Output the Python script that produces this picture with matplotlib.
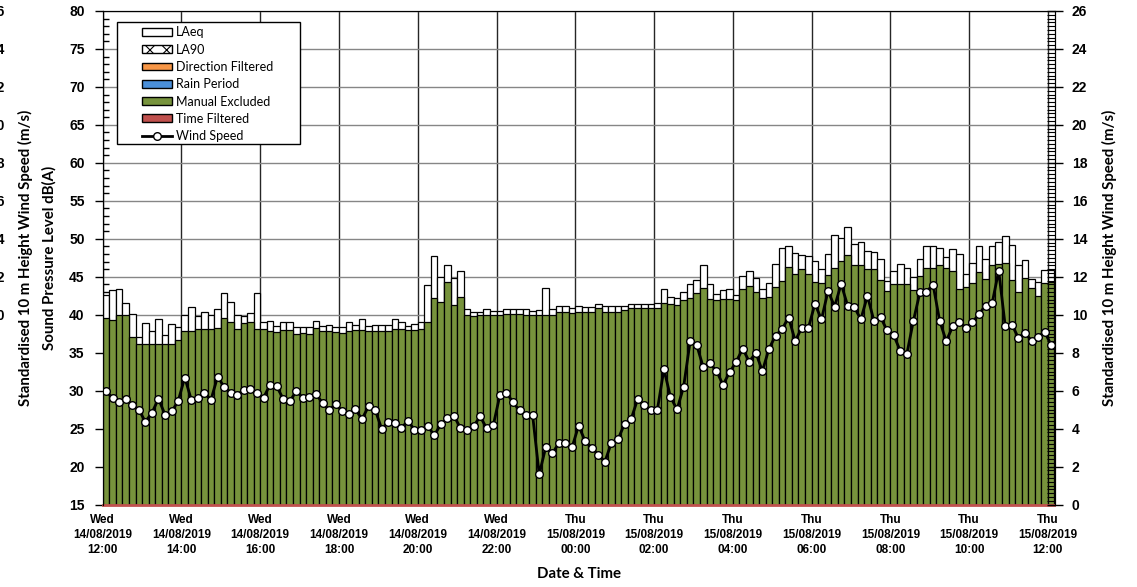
import pandas as pd
import matplotlib
matplotlib.use('Agg')
import matplotlib.pyplot as plt
import matplotlib.dates as mdates
from matplotlib import font_manager as fm
from matplotlib.patches import Patch, Rectangle
from matplotlib.lines import Line2D
from matplotlib.ticker import MultipleLocator

plt.rcParams['font.family'] = ['Liberation Sans', 'DejaVu Sans']
plt.rcParams['hatch.linewidth'] = 0.8


def bold_file(names):
    # pick a real bold face file from the first family that has one
    for name in names:
        for f in fm.fontManager.ttflist:
            if f.name == name and f.style == 'normal' and f.weight in (700, 'bold'):
                return f.fname
    return fm.findfont(fm.FontProperties(family='DejaVu Sans', weight='bold'))


LABEL_BOLD = bold_file(['Lato', 'Liberation Sans'])
TICK_BOLD = bold_file(['Liberation Sans', 'Lato'])


def bold(size, fname=LABEL_BOLD):
    return fm.FontProperties(fname=fname, size=size)


# 10 minute periods, Wed 14/08/2019 12:00 -> Thu 15/08/2019 12:00
start = '2019-08-14 12:00'

laeq = [42.6, 43.2, 43.4, 41.6, 40.1, 37.0, 38.9, 37.8, 39.4, 37.3, 38.8, 38.4, 39.9, 41.0, 39.8, 40.3, 40.0, 40.8, 42.9,
        41.7, 40.0, 39.8, 40.2, 42.9, 39.0, 39.2, 38.5, 39.0, 39.0, 38.4, 38.4, 38.4, 39.2, 38.5, 38.6, 38.4, 38.4,
        39.1, 38.6, 39.4, 38.5, 38.7, 38.6, 38.7, 39.4, 39.1, 38.5, 38.8, 39.0, 43.9, 47.7, 44.9, 46.6, 44.8, 45.8,
        40.7, 40.4, 40.4, 40.8, 40.5, 40.5, 40.8, 40.8, 40.8, 40.7, 40.5, 40.6, 43.5, 40.7, 41.1, 41.1, 40.9, 41.1,
        41.0, 41.0, 41.4, 41.2, 41.1, 41.1, 41.2, 41.4, 41.4, 41.4, 41.4, 41.5, 43.4, 42.3, 42.2, 43.0, 44.1, 44.6,
        46.5, 44.0, 42.7, 43.2, 43.4, 42.6, 45.1, 45.8, 44.8, 43.4, 44.2, 46.7, 48.8, 49.0, 48.1, 47.8, 47.7, 47.1,
        46.0, 48.0, 50.5, 50.1, 51.5, 49.3, 49.6, 48.4, 48.2, 47.3, 44.5, 45.7, 46.7, 46.2, 45.0, 47.4, 49.0, 49.0,
        48.8, 47.6, 48.7, 48.0, 45.4, 46.8, 49.0, 47.4, 49.0, 49.6, 50.3, 49.2, 46.5, 47.2, 44.7, 44.3, 45.9, 45.9]

la90 = [39.5, 39.3, 39.9, 39.9, 37.1, 36.1, 36.2, 36.2, 36.2, 36.1, 36.2, 36.7, 37.8, 37.9, 38.1, 38.1, 38.1, 38.2, 39.5,
        39.1, 38.1, 38.9, 39.0, 38.1, 38.1, 37.9, 37.7, 38.0, 38.0, 37.5, 37.6, 37.5, 38.2, 37.8, 37.8, 37.7, 37.6,
        37.9, 38.0, 38.0, 37.9, 37.9, 37.9, 37.9, 38.1, 38.1, 38.0, 38.0, 38.1, 39.1, 42.2, 41.7, 44.3, 41.3, 42.3,
        40.0, 39.8, 39.9, 40.0, 39.9, 40.0, 40.1, 40.1, 40.1, 40.0, 40.0, 40.0, 40.0, 40.0, 40.3, 40.3, 40.2, 40.3,
        40.3, 40.4, 40.9, 40.4, 40.4, 40.4, 40.6, 40.9, 40.9, 40.9, 40.9, 40.9, 41.5, 41.4, 41.3, 41.9, 42.2, 42.9,
        43.5, 42.1, 42.0, 42.1, 42.1, 41.9, 43.4, 43.8, 43.0, 42.2, 42.3, 43.6, 44.5, 46.3, 45.4, 46.0, 45.3, 44.3,
        44.2, 45.2, 46.1, 47.1, 47.9, 46.5, 46.5, 46.0, 46.0, 44.6, 43.1, 44.0, 44.1, 44.1, 43.3, 45.1, 46.1, 46.1,
        46.6, 46.1, 45.8, 43.4, 43.7, 44.2, 45.6, 44.7, 46.5, 46.7, 46.8, 44.6, 43.0, 44.8, 43.5, 42.4, 44.2, 44.3]

wind = [5.97, 5.62, 5.41, 5.57, 5.25, 4.99, 4.36, 4.83, 5.57, 4.73, 4.90, 5.45, 6.69, 5.52, 5.62, 5.87, 5.52, 6.73, 6.20,
        5.90, 5.78, 6.04, 6.06, 5.85, 5.62, 6.32, 6.22, 5.57, 5.45, 5.97, 5.62, 5.64, 5.83, 5.34, 4.99, 5.27, 4.94,
        4.75, 5.01, 4.50, 5.17, 4.99, 3.99, 4.34, 4.27, 4.03, 4.41, 3.94, 3.90, 4.15, 3.64, 4.22, 4.55, 4.66, 4.04,
        3.90, 4.13, 4.64, 4.01, 4.17, 5.75, 5.90, 5.38, 4.96, 4.73, 4.69, 1.59, 3.03, 2.69, 3.24, 3.22, 3.01, 4.15,
        3.34, 2.99, 2.62, 2.25, 3.25, 3.43, 4.25, 4.50, 5.55, 5.24, 4.99, 4.99, 7.13, 5.66, 5.01, 6.20, 8.62, 8.39,
        7.22, 7.43, 7.04, 6.31, 6.96, 7.52, 8.20, 7.53, 7.99, 7.03, 8.20, 8.89, 9.25, 9.85, 8.62, 9.31, 9.29, 10.57,
        9.75, 11.25, 10.43, 11.62, 10.46, 10.39, 9.76, 10.99, 9.67, 9.87, 9.17, 8.92, 8.10, 7.92, 9.67, 11.18, 11.21, 11.58,
        9.69, 8.61, 9.38, 9.64, 9.29, 9.59, 10.04, 10.48, 10.60, 12.32, 9.38, 9.48, 8.78, 9.06, 8.62, 8.85, 9.08, 8.41]

times = pd.date_range(start, periods=len(laeq), freq='10min')
x = mdates.date2num(times)
step = 1 / 144

W, H = 1137, 587
L, R, T, B = 102.7, 1054.5, 11, 504.5

fig = plt.figure(figsize=(W / 100, H / 100), dpi=100)
ax = fig.add_axes([L / W, 1 - B / H, (R - L) / W, (B - T) / H])

# bars
ax.bar(x, laeq, width=step, align='edge', color='white', edgecolor='black', linewidth=0.9)
ax.bar(x, la90, width=step, align='edge', color='#77933C', edgecolor='black', linewidth=0.9)

ax.set_xlim(x[0], x[-1] + step)
ax.set_ylim(15, 80)
ax.yaxis.set_major_locator(MultipleLocator(5))
ax.yaxis.set_minor_locator(MultipleLocator(1))
ax.xaxis.set_major_locator(mdates.HourLocator(byhour=range(0, 24, 2)))
ax.xaxis.set_major_formatter(mdates.DateFormatter('%a\n%d/%m/%Y\n%H:%M'))
ax.set_axisbelow(True)
ax.grid(axis='y', color='#868686', linewidth=1)
ax.grid(axis='x', color='#262626', linewidth=1)
ax.tick_params(axis='y', which='major', direction='out', length=6, width=1, pad=7)
ax.tick_params(axis='y', which='minor', direction='in', length=4, width=1)
ax.tick_params(axis='x', length=0, pad=7)
ax.spines['bottom'].set_color('#C0504D')
ax.spines['bottom'].set_linewidth(2)

ax.set_ylabel('Sound Pressure Level dB(A)', fontproperties=bold(10.8))
ax.yaxis.set_label_coords((56.5 - L) / (R - L), 0.5)
ax.set_xlabel('Date & Time', fontproperties=bold(10.8))
ax.xaxis.set_label_coords(0.5, (B - 567) / (B - T))

# wind speed
ax2 = ax.twinx()
ax2.plot(x + step / 2, wind, '-o', color='black', linewidth=2, markersize=5.5,
         markerfacecolor='white', markeredgecolor='black', markeredgewidth=1)
ax2.set_ylim(0, 26)
ax2.yaxis.set_major_locator(MultipleLocator(2))
ax2.yaxis.set_minor_locator(MultipleLocator(0.2))
ax2.tick_params(axis='y', which='major', direction='inout', length=11, width=1, pad=7)
ax2.tick_params(axis='y', which='minor', direction='in', length=5.5, width=0.8)
ax2.spines['bottom'].set_visible(False)
ax2.set_ylabel('Standardised 10 m Height Wind Speed (m/s)', fontproperties=bold(10.8))
ax2.yaxis.set_label_coords((1101.5 - L) / (R - L), 0.5)

# wind axis of the neighbouring chart, cut by the left edge
axo_w = 0.2 - 20 / W
axo = fig.add_axes([-0.2, 1 - B / H, axo_w, (B - T) / H])
axo.set_ylim(0, 26)
axo.yaxis.tick_right()
axo.yaxis.set_major_locator(MultipleLocator(2))
axo.tick_params(axis='y', length=0, pad=6.5)
axo.set_xticks([])
axo.patch.set_visible(False)
for s in axo.spines.values():
    s.set_visible(False)
axo.yaxis.set_label_position('right')
axo.set_ylabel('Standardised 10 m Height Wind Speed (m/s)', fontproperties=bold(10.8))
axo.yaxis.set_label_coords((18 / W + 0.2) / axo_w, 0.5)

# legend
handles = [
    Patch(facecolor='white', edgecolor='black', label='LAeq'),
    Patch(facecolor='white', edgecolor='black', hatch='xx', label='LA90'),
    Patch(facecolor='#F79646', edgecolor='black', label='Direction Filtered'),
    Patch(facecolor='#4A8FD9', edgecolor='black', label='Rain Period'),
    Patch(facecolor='#77933C', edgecolor='black', label='Manual Excluded'),
    Patch(facecolor='#C0504D', edgecolor='black', label='Time Filtered'),
    Line2D([], [], color='black', linewidth=2, marker='o', markersize=5.5,
           markerfacecolor='white', markeredgecolor='black', label='Wind Speed'),
]
box = Rectangle((116.7 / W, 1 - 144 / H), (300 - 116.7) / W, (144 - 22) / H, transform=fig.transFigure,
                facecolor='white', edgecolor='black', linewidth=1, zorder=4)
ax2.add_patch(box)
leg = ax2.legend(handles=handles, loc='upper left', bbox_to_anchor=(141.7 / W, 1 - 26.5 / H),
                 bbox_transform=fig.transFigure, frameon=False, borderpad=0, borderaxespad=0,
                 handlelength=2.4, handleheight=0.58, handletextpad=0.32, labelspacing=0.42,
                 prop={'family': ['Lato', 'DejaVu Sans'], 'weight': 'normal', 'size': 9})
leg.set_zorder(5)

# tick labels get their bold face once all ticks exist
fig.canvas.draw()
for a in [ax, ax2, axo]:
    for lab in a.yaxis.get_ticklabels(which='both'):
        lab.set_fontproperties(bold(10, TICK_BOLD))
for lab in ax.xaxis.get_ticklabels():
    lab.set_fontproperties(bold(8.5, TICK_BOLD))
    lab.set_linespacing(1.3)

fig.savefig('out.png', dpi=100)
